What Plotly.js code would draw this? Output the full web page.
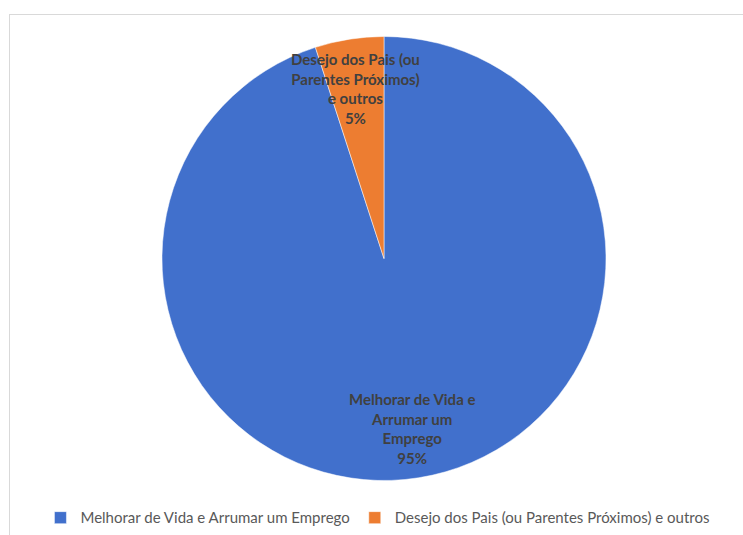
<!DOCTYPE html>
<html>
<head>
<meta charset="utf-8">
<script src="https://cdn.plot.ly/plotly-3.0.1.min.js"></script>
<style>
html,body{margin:0;padding:0;background:#fff;overflow:hidden;}
#chart{width:743px;height:535px;position:absolute;left:0;top:0;}
#frame{position:absolute;left:9px;top:14px;width:800px;height:600px;border:1.5px solid #d9d9d9;pointer-events:none;}
</style>
</head>
<body>
<div id="chart"></div>
<div id="frame"></div>
<script>
const categories = ["Melhorar de Vida e Arrumar um Emprego", "Desejo dos Pais (ou Parentes Próximos) e outros"];
const values = [95, 5];
const labelLines = [["Melhorar de Vida e", "Arrumar um", "Emprego"], ["Desejo dos Pais (ou", "Parentes Próximos)", "e outros"]];
const colors = ["#4170cc", "#ed7d31"];

const total = values.reduce((a, b) => a + b, 0);
const labelPos = [{x: 0.5545, y: 0.119}, {x: 0.478, y: 0.883}];

const annotations = categories.map((c, i) => ({
  xref: "paper", yref: "paper",
  x: labelPos[i].x, y: labelPos[i].y,
  xanchor: "center", yanchor: "middle",
  showarrow: false,
  align: "center",
  text: "<b>" + labelLines[i].join("<br>") + "<br>" + Math.round(values[i] / total * 100) + "%</b>",
  font: {family: "Lato, sans-serif", size: 15, color: "#404040"}
}));

const data = [{
  type: "pie",
  labels: categories,
  values: values,
  sort: false,
  direction: "clockwise",
  rotation: 0,
  textinfo: "none",
  hoverinfo: "label+percent",
  domain: {x: [0.218, 0.8156], y: [0, 1]},
  marker: {colors: colors, line: {color: "#ffffff", width: 0.5}}
}];

const layout = {
  width: 743, height: 535,
  margin: {l: 0, r: 0, t: 36, b: 54},
  paper_bgcolor: "rgba(0,0,0,0)",
  showlegend: true,
  legend: {
    orientation: "h", xref: "container", yref: "container",
    x: 0.508, xanchor: "center", y: 0.032, yanchor: "middle",
    font: {family: "Lato, sans-serif", size: 15, color: "#595959"},
    traceorder: "normal"
  },
  annotations: annotations
};

Plotly.newPlot("chart", data, layout, {displayModeBar: false, staticPlot: true});
</script>
</body>
</html>
